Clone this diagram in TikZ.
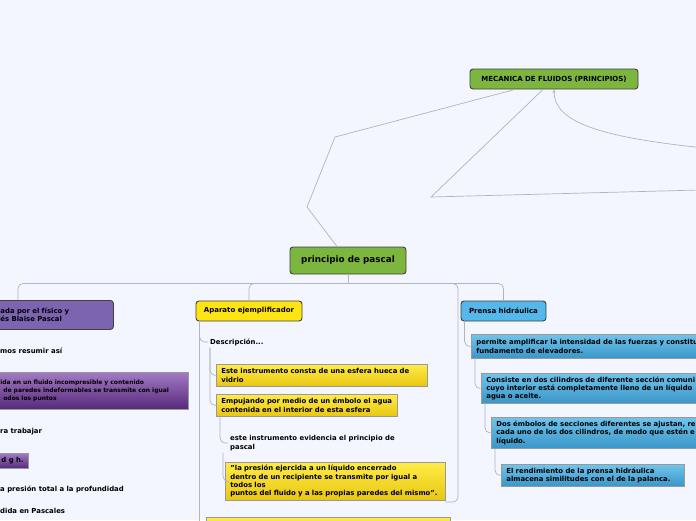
\documentclass[tikz,border=0pt]{standalone}
\usepackage{fontspec}
\setmainfont{DejaVu Sans}
\usetikzlibrary{arrows.meta,positioning,calc}

\definecolor{fondo}{RGB}{243,246,254}
\definecolor{linea}{RGB}{176,180,190}
\definecolor{verde}{RGB}{124,182,62}
\definecolor{amarillo}{RGB}{255,228,20}
\definecolor{amarA}{RGB}{255,236,70}
\definecolor{amarB}{RGB}{232,198,18}
\definecolor{celeste}{RGB}{84,184,234}
\definecolor{azulA}{RGB}{112,196,236}
\definecolor{azulB}{RGB}{58,150,200}
\definecolor{lila}{RGB}{124,100,176}
\definecolor{morA}{RGB}{162,122,196}
\definecolor{morB}{RGB}{86,40,122}

\begin{document}
\begin{tikzpicture}[x=1pt,y=-1pt,
  tema/.style={rectangle,rounded corners=3pt,draw=black!75,line width=0.9pt,
    font=\fontsize{7}{8.3}\selectfont\bfseries,inner sep=0pt},
  caja/.style={rectangle,draw=black!40,line width=0.7pt,align=left,anchor=north west,
    inner xsep=5pt,inner ysep=3pt,font=\fontsize{6.9}{8.3}\selectfont\bfseries},
  amarilla/.style={caja,top color=amarA,bottom color=amarB},
  azul/.style={caja,top color=azulA,bottom color=azulB},
  morada/.style={caja,top color=morA,bottom color=morB},
  texto/.style={anchor=west,align=left,inner sep=2pt,font=\fontsize{6.9}{8.3}\selectfont\bfseries},
  link/.style={draw=linea,line width=0.7pt},
  rama/.style={link,rounded corners=5pt}
]
\useasboundingbox (0,0) rectangle (696,520);
\fill[fondo] (0,0) rectangle (696,520);
\clip (0,0) rectangle (696,520);

% temas principales
\node[tema,fill=verde,minimum width=168pt,minimum height=20pt] (mecanica) at (554,79)
  {MECANICA DE FLUIDOS (PRINCIPIOS)};
\node[tema,fill=verde,minimum width=116pt,minimum height=27pt,
  font=\fontsize{8.8}{10}\selectfont\bfseries] (pascal) at (348,260.5) {principio de pascal};

\node[tema,fill=amarillo,minimum width=106pt,minimum height=20pt] (aparato) at (249,311)
  {Aparato ejemplificador};
\node[tema,fill=celeste,minimum width=85pt,minimum height=20pt] (prensa) at (503.5,311)
  {Prensa hidráulica};
\node[caja,fill=lila,draw=black!75,line width=0.9pt,rounded corners=3pt,
  text width=108pt,minimum height=29pt] (ley) at (-5,300)
  {\mbox{ada por el físico y}\\\mbox{és Blaise Pascal}};

% rama izquierda
\node[texto] (resumir) at (-2,351) {mos resumir así};
\node[morada,text width=183pt,minimum height=37pt,
  font=\fontsize{6}{8.4}\selectfont\bfseries] (enunciado) at (-5,372)
  {\mbox{ida en un fluido incompresible y contenido}\\
   \mbox{\hspace*{3pt}de paredes indeformables se transmite con igual}\\
   \mbox{\hspace*{3pt}odos los puntos}};
\node[texto] (trabajar) at (-2,432) {ra trabajar};
\node[morada,anchor=north east,minimum height=15pt] (dgh) at (29,453) {d g h.};
\node[texto] (presion) at (-2,489) {a presión total a la profundidad};
\node[texto] (pascales) at (-2,511) {dida en Pascales};

% rama central
\node[texto] (descripcion) at (208,342) {Descripción...};
\node[amarilla,text width=201pt,minimum height=22pt] (esfera) at (216,364)
  {\mbox{Este instrumento consta de una esfera hueca de}\\vidrio};
\node[amarilla,text width=171pt,minimum height=22pt] (embolo) at (216,394)
  {\mbox{Empujando por medio de un émbolo el agua}\\\mbox{contenida en el interior de esta esfera}};
\node[texto] (evidencia) at (228,443)
  {este instrumento evidencia el principio de\\pascal};
\node[amarilla,text width=210pt,minimum height=38pt] (cita) at (225,462)
  {\mbox{"la presión ejercida a un líquido encerrado}\\
   \mbox{dentro de un recipiente se transmite por igual a}\\
   todos los\\
   \mbox{puntos del fluido y a las propias paredes del mismo".}};
\node[amarilla,text width=234pt,minimum height=20pt] (pie) at (206,517) {};

% rama derecha
\node[azul,text width=300pt,minimum height=24pt] (amplifica) at (471,334)
  {\mbox{permite amplificar la intensidad de las fuerzas y constitu}\\fundamento de elevadores.};
\node[azul,text width=300pt,minimum height=30pt] (cilindros) at (481,373)
  {\mbox{Consiste en dos cilindros de diferente sección comuni}\\
   \mbox{cuyo interior está completamente lleno de un líquido}\\
   agua o aceite.};
\node[azul,text width=300pt,minimum height=31pt] (embolos) at (491,417)
  {\mbox{Dos émbolos de secciones diferentes se ajustan, re}\\
   \mbox{cada uno de los dos cilindros, de modo que estén e}\\
   líquido.};
\node[azul,text width=173pt,minimum height=22pt] (rendimiento) at (501,464)
  {\mbox{El rendimiento de la prensa hidráulica}\\\mbox{almacena similitudes con el de la palanca.}};

% conectores superiores
\coordinate (borde1) at (700,190);
\coordinate (borde2) at (700,147.5);
\draw[link] ([xshift=-11pt]pascal.north) -- (307,207) -- (335,137) -- ([xshift=-39pt]mecanica.south);
\draw[link] ([xshift=-11pt]mecanica.south) -- (431,197) -- (borde1);
\draw[link,-{Stealth[length=3.5pt,width=3pt]}] (borde2) .. controls (600,137) and (554,122) .. (mecanica.south);

% ramas
\draw[rama] (pascal.south) -- ++(0,9) coordinate (bus);
\draw[rama] (bus) -| ([xshift=23pt]ley.north west);
\draw[rama] (bus) -| (aparato.north);
\draw[rama] (bus) -| (prensa.north);
\coordinate (cola) at (445,502);
\draw[rama] (bus) -| ([xshift=13pt]cola) -- (cola);

\draw[rama] ([xshift=4pt]aparato.south west) |- (descripcion.west);
\draw[rama] ([xshift=4pt]aparato.south west) |- (pie.west);
\draw[rama] ([xshift=2pt]descripcion.south west) |- (esfera.west);
\draw[rama] ([xshift=2pt]descripcion.south west) |- (embolo.west);
\draw[rama] ([xshift=4pt]embolo.south west) |- (evidencia.west);
\draw[rama] ([xshift=-5pt]evidencia.south west) |- (cita.west);

\draw[rama] ([xshift=4pt]prensa.south west) |- (amplifica.west);
\draw[rama] ([xshift=4pt]amplifica.south west) |- (cilindros.west);
\draw[rama] ([xshift=4pt]cilindros.south west) |- (embolos.west);
\draw[rama] ([xshift=4pt]embolos.south west) |- (rendimiento.west);
\end{tikzpicture}
\end{document}
